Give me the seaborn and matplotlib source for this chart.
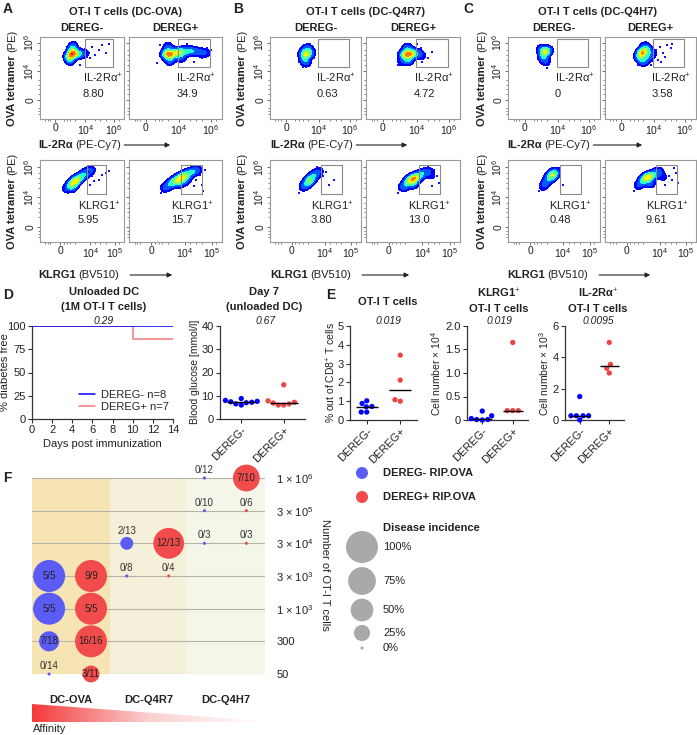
import numpy as np
import pandas as pd
import matplotlib
matplotlib.use("Agg")
import matplotlib.pyplot as plt
import seaborn as sns
from matplotlib.colors import ListedColormap, LinearSegmentedColormap
from matplotlib.patches import Rectangle, Polygon, FancyArrowPatch
from matplotlib.lines import Line2D

sns.set_theme(style="ticks")
plt.rcParams['font.family'] = ['Liberation Sans', 'DejaVu Sans']
plt.rcParams['mathtext.fontset'] = 'custom'
plt.rcParams['mathtext.rm'] = 'Liberation Sans'
plt.rcParams['mathtext.it'] = 'Liberation Sans:italic'
plt.rcParams['mathtext.bf'] = 'Liberation Sans:bold'

# ======================= DATA =======================
flow_groups = ["DC-OVA", "DC-Q4R7", "DC-Q4H7"]
flow_genotypes = ["DEREG-", "DEREG+"]
il2ra_pct = ["8.80", "34.9", "0.63", "4.72", "0", "3.58"]
klrg1_pct = ["5.95", "15.7", "3.80", "13.0", "0.48", "9.61"]

# event-density anchors (x, y, weight) in dot-plot display units (0-100), order A-, A+, B-, B+, C-, C+
il2ra_clouds = [
    [(38, 79, 1.0), (34, 76, 0.6), (43, 80, 0.6), (38, 85, 0.5), (36, 71, 0.4), (48, 79, 0.35),
     (54, 80, 0.2), (40, 90, 0.25)],
    [(45, 79, 1.0), (40, 79, 0.8), (52, 81, 0.8), (58, 82, 0.6), (65, 83, 0.5), (72, 82, 0.4),
     (79, 81, 0.3), (84, 80, 0.15), (44, 71, 0.4), (42, 88, 0.35), (56, 74, 0.3)],
    [(40, 79, 0.7), (38, 73, 0.45), (41, 86, 0.4), (45, 81, 0.35), (36, 80, 0.3), (40, 68, 0.25)],
    [(45, 79, 1.0), (40, 78, 0.6), (50, 80, 0.6), (45, 71, 0.45), (44, 87, 0.4), (56, 80, 0.3),
     (38, 69, 0.2), (60, 76, 0.15)],
    [(40, 82, 0.8), (38, 76, 0.45), (44, 84, 0.35), (41, 70, 0.3), (36, 86, 0.25)],
    [(41, 81, 1.0), (38, 76, 0.6), (46, 84, 0.5), (42, 70, 0.45), (48, 75, 0.35), (44, 89, 0.3),
     (52, 80, 0.25)],
]
il2ra_dots = [
    [(54, 85), (58, 80), (62, 88), (66, 78), (70, 84), (74, 90), (78, 80), (60, 74), (82, 92), (56, 76), (48, 66)],
    [(86, 80), (84, 86), (30, 68), (33, 90), (62, 92), (70, 70), (78, 74), (88, 84)],
    [(44, 92), (32, 70), (48, 74), (36, 64), (47, 85)],
    [(58, 86), (62, 80), (66, 74), (70, 82), (60, 70), (34, 66), (54, 92)],
    [(34, 72), (46, 76), (42, 62), (47, 88)],
    [(56, 84), (60, 88), (64, 80), (68, 90), (72, 86), (58, 72), (62, 70), (66, 76), (74, 92), (36, 66), (50, 66)],
]
klrg1_clouds = [
    [(42, 74, 1.0), (37, 70, 0.6), (47, 78, 0.6), (52, 82, 0.45), (57, 86, 0.3), (62, 88, 0.2),
     (32, 65, 0.3), (39, 66, 0.3)],
    [(57, 79, 1.0), (51, 75, 0.8), (45, 71, 0.55), (39, 66, 0.35), (63, 83, 0.6), (69, 86, 0.4),
     (74, 88, 0.25), (55, 71, 0.3), (62, 75, 0.25)],
    [(45, 77, 0.5), (41, 72, 0.4), (49, 82, 0.4), (37, 67, 0.3), (54, 86, 0.25), (43, 74, 0.3)],
    [(50, 77, 1.0), (45, 73, 0.7), (55, 80, 0.7), (40, 67, 0.4), (61, 84, 0.4), (67, 86, 0.25),
     (70, 80, 0.15), (51, 70, 0.3)],
    [(49, 82, 0.8), (45, 78, 0.5), (41, 72, 0.3), (52, 86, 0.3), (38, 67, 0.2)],
    [(47, 79, 1.0), (42, 75, 0.6), (53, 82, 0.6), (37, 69, 0.3), (59, 86, 0.35), (64, 79, 0.2),
     (50, 71, 0.3)],
]
klrg1_dots = [
    [(58, 85), (62, 80), (66, 88), (70, 76), (74, 82), (78, 84), (82, 86), (60, 70), (64, 74), (56, 90)],
    [(72, 76), (76, 82), (78, 70), (80, 62), (74, 92), (70, 68), (34, 60), (82, 88)],
    [(62, 85), (65, 70), (70, 76), (58, 80), (32, 60), (52, 92)],
    [(72, 88), (76, 80), (78, 72), (34, 60), (70, 68), (66, 92)],
    [(60, 70), (34, 62), (56, 90)],
    [(70, 80), (74, 76), (78, 84), (80, 72), (66, 70), (32, 62), (76, 90)],
]
il2ra_xticks = ["0", "$10^4$", "$10^6$"]
klrg1_xticks = ["0", "$10^4$", "$10^5$"]
tet_yticks = ["0", "$10^4$", "$10^6$"]

# D: survival
surv_neg_days = [0, 14]
surv_neg_pct = [100, 100]
surv_pos_days = [0, 10, 14]
surv_pos_pct = [100, 85.7, 85.7]
surv_labels = ["DEREG- n=8", "DEREG+ n=7"]
surv_p = "0.29"
# D: glucose
glucose_neg = [8.8, 8.0, 7.6, 7.4, 7.2, 7.0, 6.5, 6.0]
glucose_pos = [14.7, 7.8, 7.2, 6.9, 6.5, 6.0, 6.0]
glucose_p = "0.67"
# E
freq_neg = [0.88, 0.72, 1.02, 0.70, 0.42, 0.42]
freq_pos = [3.45, 2.12, 1.08, 1.0]
freq_p = "0.019"
klrg_neg = [0.09, 0.19, 0.01, 0.0, 0.01, 0.03]
klrg_pos = [1.65, 0.2, 0.2, 0.2]
klrg_p = "0.019"
il2_neg = [1.5, 0.27, 0.27, 0.27, 0.27, 0.0]
il2_pos = [4.95, 3.55, 3.3, 3.0]
il2_p = "0.0095"

# F: disease incidence
f_groups = ["DC-OVA", "DC-Q4R7", "DC-Q4H7"]
f_doses = ["50", "300", "1 × $10^3$", "3 × $10^3$", "3 × $10^4$", "3 × $10^5$", "1 × $10^6$"]
f_genotype = ["DEREG-"] * 9 + ["DEREG+"] * 9
f_group = ["DC-OVA", "DC-OVA", "DC-OVA", "DC-OVA", "DC-Q4R7", "DC-Q4R7", "DC-Q4H7", "DC-Q4H7", "DC-Q4H7"] * 2
f_dose = ["50", "300", "1 × $10^3$", "3 × $10^3$", "3 × $10^3$", "3 × $10^4$", "3 × $10^4$", "3 × $10^5$", "1 × $10^6$"] * 2
f_sick = [0, 7, 5, 5, 0, 2, 0, 0, 0, 3, 16, 5, 9, 0, 12, 0, 0, 7]
f_total = [14, 18, 5, 5, 8, 13, 3, 10, 12, 11, 16, 5, 9, 4, 13, 3, 6, 10]
legend_levels = [1.0, 0.75, 0.5, 0.25, 0.0]
legend_level_labels = ["100%", "75%", "50%", "25%", "0%"]

# ======================= STYLE / LAYOUT =======================
W, H = 697, 735
BLUE = "#0000ff"
RED = "#f04444"
BUB_BLUE = "#5b5bf5"
BUB_RED = "#f24b4b"
GRAY = "#a7aaa9"
TXT = "#222222"

fig = plt.figure(figsize=(W / 100, H / 100), dpi=100)
renderer = fig.canvas.get_renderer()


def px_rect(x0, y0, x1, y1):
    return [x0 / W, 1 - y1 / H, (x1 - x0) / W, (y1 - y0) / H]


def ftext(x, y, s, **kw):
    kw.setdefault("color", TXT)
    return fig.text(x / W, 1 - y / H, s, **kw)


def two_part_h(x, y, bold, normal, size=8):
    t1 = ftext(x, y, bold, fontsize=size, fontweight="bold", ha="left", va="center")
    bb = t1.get_window_extent(renderer)
    t2 = ftext(bb.x1 + 3, y, normal, fontsize=size, ha="left", va="center")
    bb2 = t2.get_window_extent(renderer)
    return bb2.x1


def two_part_v(x, yc, bold, normal, size=8):
    t1 = ftext(x, 0, bold, fontsize=size, fontweight="bold", rotation=90, ha="center", va="bottom")
    t2 = ftext(x, 0, normal, fontsize=size, rotation=90, ha="center", va="bottom")
    h1 = t1.get_window_extent(renderer).height
    h2 = t2.get_window_extent(renderer).height
    gap = 3
    y0 = (H - yc) - (h1 + gap + h2) / 2
    t1.set_y(y0 / H)
    t2.set_y((y0 + h1 + gap) / H)


def arrow(x0, x1, y):
    fig.add_artist(FancyArrowPatch((x0 / W, 1 - y / H), (x1 / W, 1 - y / H), transform=fig.transFigure,
                                   arrowstyle="-|>", mutation_scale=7, lw=0.8, color=TXT))


jet = matplotlib.colormaps["jet"]
flow_cmap = ListedColormap(jet(np.linspace(0.12, 0.9, 256)))
dens_levels = [0.12, 0.3, 0.55, 0.8, 1.05, 1.3, 1.6, 50]
dens_colors = [flow_cmap(v) for v in [0.0, 0.12, 0.35, 0.5, 0.68, 0.84, 1.0]]
SIGMA = 3.6
grid = np.linspace(0, 100, 301)
GX, GY = np.meshgrid(grid, grid)

frames_x = [(40, 124), (129, 222), (270, 361), (366, 460), (508, 600), (605, 696)]
top_y = (37, 119)
bot_y = (160, 242)


def flow_plot(xr, yr, cloud, dots, xticks, xtl, yticks, show_ylab, gate, label, value, txt_x, lab_y, val_y):
    ax = fig.add_axes(px_rect(xr[0], yr[0], xr[1], yr[1]))
    dens = np.zeros_like(GX)
    for (cx, cy, w) in cloud:
        dens += w * np.exp(-((GX - cx) ** 2 + (GY - cy) ** 2) / (2 * SIGMA ** 2))
    ax.contourf(GX, GY, dens, levels=dens_levels, colors=dens_colors, zorder=2)
    sns.scatterplot(x=[d[0] for d in dots], y=[d[1] for d in dots], s=4, marker="s", color="#1010ff",
                    linewidth=0, ax=ax, zorder=3)
    ax.add_patch(Rectangle((gate[0], gate[1]), gate[2] - gate[0], gate[3] - gate[1], fill=False,
                           edgecolor="#8a8a8a", lw=0.8, zorder=4))
    ax.text(txt_x, lab_y, label, fontsize=8, ha="left", va="center", color=TXT)
    ax.text(txt_x, val_y, value, fontsize=8, ha="left", va="center", color=TXT)
    ax.set_xlim(0, 100)
    ax.set_ylim(0, 100)
    ax.set_xticks(xticks, xtl)
    ax.set_yticks(yticks, tet_yticks if show_ylab else [])
    ax.set_xticks([6, 9, 12, 28, 32, 36, 42, 66, 72, 78, 94], minor=True)
    ax.set_yticks([6, 10, 14, 30, 36, 42, 48, 66, 72, 78, 84], minor=True)
    if show_ylab:
        plt.setp(ax.get_yticklabels(), rotation=90, va="center")
    ax.tick_params(which="major", labelsize=7.5, length=2, width=0.6, pad=1.2, colors="#555", labelcolor=TXT)
    ax.tick_params(which="minor", length=1.3, width=0.5, colors="#555")
    ax.set_xlabel("")
    ax.set_ylabel("")
    for sp in ax.spines.values():
        sp.set_color("#9a9a9a")
        sp.set_linewidth(0.8)
    return ax


# ---------- panels A, B, C ----------
panel_letters = ["A", "B", "C"]
letter_x = [3, 233, 463]
title_cx = [125, 366, 598]
ylab_x = [12, 242, 482]
xlab_start = [38, 270, 507]
top_arrow_end = [173, 410, 645]
bot_arrow_end = [175, 412, 653]

for p in range(3):
    ftext(letter_x[p], 2, panel_letters[p], fontsize=10, fontweight="bold", ha="left", va="top")
    ftext(title_cx[p], 12, f"OT-I T cells ({flow_groups[p]})", fontsize=8, fontweight="bold",
          ha="center", va="center")
    for g in range(2):
        k = 2 * p + g
        xr = frames_x[k]
        ftext((xr[0] + xr[1]) / 2, 28, flow_genotypes[g], fontsize=8, fontweight="bold",
              ha="center", va="center")
        flow_plot(xr, top_y, il2ra_clouds[k], il2ra_dots[k], [18, 54, 88], il2ra_xticks, [23, 58, 93],
                  g == 0, (53, 63, 87, 98), "IL-2Rα$^{+}$", il2ra_pct[k], 51, 49, 30)
        flow_plot(xr, bot_y, klrg1_clouds[k], klrg1_dots[k], [24, 60, 89], klrg1_xticks, [18, 55, 91],
                  g == 0, (56, 58, 79, 94), "KLRG1$^{+}$", klrg1_pct[k], 45, 44, 27)
    two_part_v(ylab_x[p], (top_y[0] + top_y[1]) / 2, "OVA tetramer", "(PE)")
    two_part_v(ylab_x[p], (bot_y[0] + bot_y[1]) / 2, "OVA tetramer", "(PE)")
    end = two_part_h(xlab_start[p], 145, "IL-2Rα", "(PE-Cy7)")
    arrow(end, top_arrow_end[p], 145)
    end = two_part_h(xlab_start[p], 275, "KLRG1", "(BV510)")
    arrow(end + 8, bot_arrow_end[p], 275)

# ---------- panel D ----------
ftext(3, 288, "D", fontsize=10, fontweight="bold", ha="left", va="top")
axd = fig.add_axes(px_rect(32, 326, 173, 419))
sns.lineplot(x=surv_pos_days, y=surv_pos_pct, drawstyle="steps-post", color="#f07878", lw=1.1, ax=axd)
sns.lineplot(x=surv_neg_days, y=surv_neg_pct, drawstyle="steps-post", color=BLUE, lw=1.1, ax=axd)
axd.set_xlim(0, 14)
axd.set_ylim(0, 100)
axd.set_xticks(range(0, 15, 2))
axd.set_yticks([0, 25, 50, 75, 100])
axd.legend([Line2D([], [], color=BLUE, lw=1.1), Line2D([], [], color="#f07878", lw=1.1)], surv_labels,
           loc="lower right", bbox_to_anchor=(1.02, 0.0), frameon=False, fontsize=8, handlelength=1.4,
           handletextpad=0.6, labelspacing=0.25, borderaxespad=0.2)
axd.set_xlabel("Days post immunization", fontsize=8, labelpad=3, color=TXT)
axd.set_ylabel("")
ftext(5, 372, "% diabetes free", fontsize=8, rotation=90, ha="center", va="center")
ftext(104, 292, "Unloaded DC", fontsize=8, fontweight="bold", ha="center", va="center")
ftext(104, 307, "(1M OT-I T cells)", fontsize=8, fontweight="bold", ha="center", va="center")
ftext(104, 321, surv_p, fontsize=7.5, style="italic", ha="center", va="center")


def dot_plot(rect, neg, pos, ylim, yticks, ytl):
    ax = fig.add_axes(px_rect(*rect))
    df = pd.DataFrame({"group": ["DEREG-"] * len(neg) + ["DEREG+"] * len(pos),
                       "value": list(neg) + list(pos)})
    sns.swarmplot(data=df, x="group", y="value", hue="group", order=flow_genotypes, hue_order=flow_genotypes,
                  palette=[BLUE, RED], size=3.8, ax=ax, legend=False, clip_on=False, zorder=3)
    for i, vals in enumerate([neg, pos]):
        ax.hlines(np.median(vals), i - 0.33, i + 0.33, color="black", lw=1, zorder=4)
    ax.set_xlim(-0.5, 1.5)
    ax.set_ylim(*ylim)
    ax.set_yticks(yticks, ytl)
    ax.set_xlabel("")
    ax.set_ylabel("")
    sns.despine(ax=ax)
    plt.setp(ax.get_xticklabels(), rotation=45, ha="right", rotation_mode="anchor")
    return ax


axg = dot_plot((220, 326, 305, 419), glucose_neg, glucose_pos, (0, 40), [0, 10, 20, 30, 40],
               ["0", "10", "20", "30", "40"])
ftext(195, 372, "Blood glucose [mmol/l]", fontsize=7.5, rotation=90, ha="center", va="center")
ftext(264, 292, "Day 7", fontsize=8, fontweight="bold", ha="center", va="center")
ftext(264, 307, "(unloaded DC)", fontsize=8, fontweight="bold", ha="center", va="center")
ftext(266, 321, glucose_p, fontsize=7.5, style="italic", ha="center", va="center")

# ---------- panel E ----------
ftext(326, 288, "E", fontsize=10, fontweight="bold", ha="left", va="top")
axe1 = dot_plot((350, 326, 417, 420), freq_neg, freq_pos, (0, 5), [0, 1, 2, 3, 4, 5],
                ["0", "1", "2", "3", "4", "5"])
ftext(331, 373, "% out of CD8$^{+}$ T cells", fontsize=7.5, rotation=90, ha="center", va="center")
ftext(388, 302, "OT-I T cells", fontsize=8, fontweight="bold", ha="center", va="center")
ftext(388, 321, freq_p, fontsize=7.5, style="italic", ha="center", va="center")

axe2 = dot_plot((467, 326, 528, 420), klrg_neg, klrg_pos, (0, 2.0), [0, 0.5, 1.0, 1.5, 2.0],
                ["0", "0.5", "1.0", "1.5", "2.0"])
ftext(436, 373, "Cell number × $10^4$", fontsize=7.5, rotation=90, ha="center", va="center")
ftext(499, 293, "KLRG1$^{+}$", fontsize=8, fontweight="bold", ha="center", va="center")
ftext(499, 309, "OT-I T cells", fontsize=8, fontweight="bold", ha="center", va="center")
ftext(499, 321, klrg_p, fontsize=7.5, style="italic", ha="center", va="center")

axe3 = dot_plot((565, 326, 624, 420), il2_neg, il2_pos, (0, 6), [0, 2, 4, 6], ["0", "2", "4", "6"])
ftext(544, 373, "Cell number × $10^3$", fontsize=7.5, rotation=90, ha="center", va="center")
ftext(598, 293, "IL-2Rα$^{+}$", fontsize=8, fontweight="bold", ha="center", va="center")
ftext(598, 309, "OT-I T cells", fontsize=8, fontweight="bold", ha="center", va="center")
ftext(598, 321, il2_p, fontsize=7.5, style="italic", ha="center", va="center")

for ax_ in (axd, axg, axe1, axe2, axe3):
    ax_.tick_params(axis="both", labelsize=8, length=3, width=0.8, pad=1.5, colors="#333", labelcolor=TXT)
    for sp in ("left", "bottom"):
        ax_.spines[sp].set_color("#333")
        ax_.spines[sp].set_linewidth(0.9)
sns.despine(ax=axd)

# ---------- panel F ----------
ftext(3, 471, "F", fontsize=10, fontweight="bold", ha="left", va="top")
axf = fig.add_axes(px_rect(32, 478, 265, 674))
bg_cols = ["#f6e4b3", "#f4f0da", "#f4f6ea"]
for i in range(3):
    axf.axvspan(i, i + 1, color=bg_cols[i], zorder=0, lw=0)
for j in range(len(f_doses)):
    axf.axhline(j, color="#b4b4aa", lw=0.8, zorder=1)

offsets = {"DEREG-": 0.22, "DEREG+": 0.76}
df_f = pd.DataFrame({"genotype": f_genotype, "group": f_group, "dose": f_dose,
                     "sick": f_sick, "total": f_total})
df_f["x"] = [f_groups.index(g) + offsets[t] for g, t in zip(df_f["group"], df_f["genotype"])]
df_f["y"] = [f_doses.index(d) for d in df_f["dose"]]
df_f["incidence"] = df_f["sick"] / df_f["total"]
SMIN, SMAX = 5, 530
sns.scatterplot(data=df_f, x="x", y="y", hue="genotype", palette={"DEREG-": BUB_BLUE, "DEREG+": BUB_RED},
                size="incidence", sizes=(SMIN, SMAX), size_norm=(0, 1), legend=False, linewidth=0,
                ax=axf, clip_on=False, zorder=3)
for _, r in df_f.iterrows():
    lab = f"{r['sick']}/{r['total']}"
    if r["incidence"] >= 0.2:
        axf.text(r["x"], r["y"], lab, fontsize=7, ha="center", va="center", color=TXT, zorder=5)
    else:
        rad = np.sqrt(SMIN + (SMAX - SMIN) * r["incidence"]) / 2
        axf.annotate(lab, (r["x"], r["y"]), xytext=(0, rad + 1.0), textcoords="offset points",
                     fontsize=7, ha="center", va="bottom", color="#333", zorder=5)
axf.set_xlim(0, 3)
axf.set_ylim(0, len(f_doses) - 1)
axf.set_xticks([0.5, 1.5, 2.5], f_groups, fontsize=8, fontweight="bold")
axf.yaxis.tick_right()
axf.set_yticks(range(len(f_doses)), f_doses, fontsize=8)
axf.tick_params(axis="x", length=0, pad=15, labelcolor=TXT)
axf.tick_params(axis="y", length=0, pad=8, labelcolor=TXT)
axf.set_xlabel("")
axf.set_ylabel("")
for sp in axf.spines.values():
    sp.set_visible(False)
ftext(325, 575, "Number of OT-I T cells", fontsize=8, rotation=270, ha="center", va="center")

# affinity wedge
axw = fig.add_axes(px_rect(32, 704, 265, 722))
grad = np.linspace(0, 1, 256)[None, :]
im = axw.imshow(grad, extent=(0, 1, 0, 1), aspect="auto",
                cmap=LinearSegmentedColormap.from_list("aff", ["#f43a3a", "#fbd0d0", "#ffffff"]))
tri = Polygon([(0, 0), (0, 1), (1, 0.05), (1, 0)], closed=True, transform=axw.transData,
              facecolor="none", edgecolor="none")
axw.add_patch(tri)
im.set_clip_path(tri)
axw.set_xlim(0, 1)
axw.set_ylim(0, 1)
axw.axis("off")
ftext(33, 729, "Affinity", fontsize=8, ha="left", va="center")

# F legend (axes whose data units equal figure pixels)
axl = fig.add_axes(px_rect(340, 460, 520, 660))
axl.set_xlim(340, 520)
axl.set_ylim(660, 460)
axl.axis("off")
sns.scatterplot(x=[362, 362], y=[473, 497], hue=["DEREG- RIP.OVA", "DEREG+ RIP.OVA"],
                palette=[BUB_BLUE, BUB_RED], s=75, linewidth=0, legend=False, ax=axl, clip_on=False)
axl.text(383, 473, "DEREG- RIP.OVA", fontsize=8, fontweight="bold", va="center", color=TXT)
axl.text(383, 497, "DEREG+ RIP.OVA", fontsize=8, fontweight="bold", va="center", color=TXT)
axl.text(383, 528, "Disease incidence", fontsize=8, fontweight="bold", va="center", color=TXT)
leg_y = [547, 581, 610, 633, 648]
sns.scatterplot(x=[362] * 5, y=leg_y, size=legend_levels, sizes=(SMIN, SMAX), size_norm=(0, 1),
                color=GRAY, linewidth=0, legend=False, ax=axl, clip_on=False)
for yy, lab in zip(leg_y, legend_level_labels):
    axl.text(383, yy, lab, fontsize=8, va="center", color=TXT)

fig.savefig("out.png", dpi=100)
